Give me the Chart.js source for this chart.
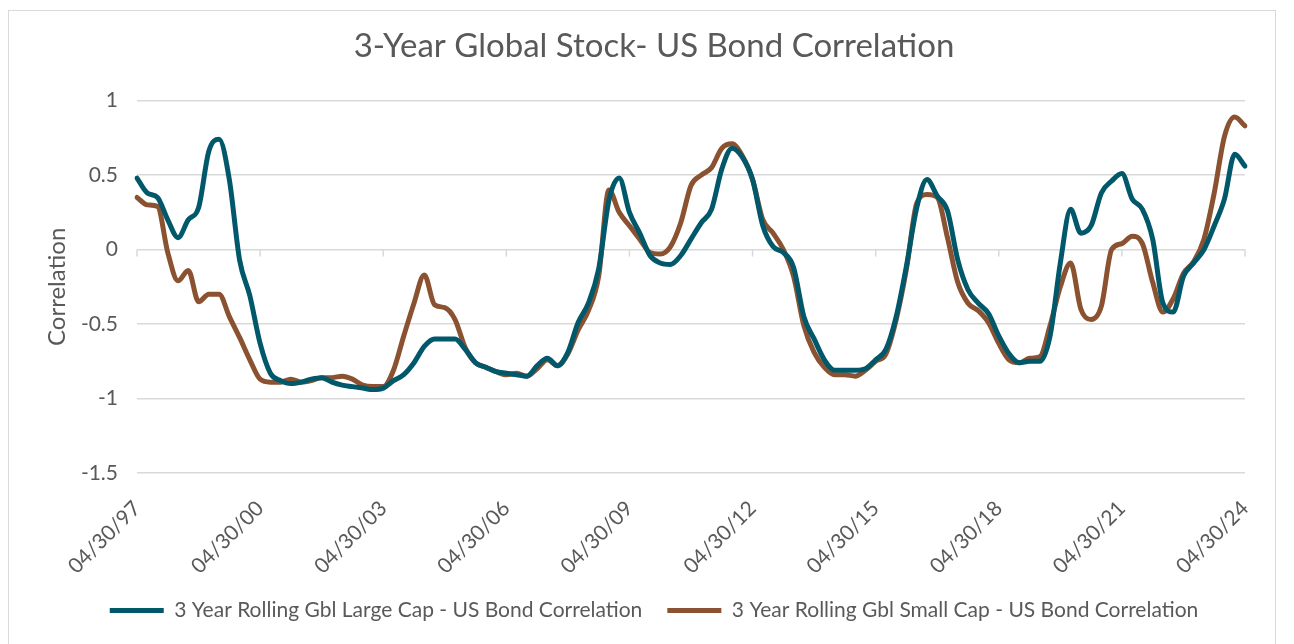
<!DOCTYPE html>
<html><head><meta charset="utf-8">
<script src="https://cdn.jsdelivr.net/npm/chart.js@4.4.1/dist/chart.umd.min.js"></script>
<style>
html,body{margin:0;padding:0;background:#fff;}
#wrap{position:relative;width:1294px;height:644px;overflow:hidden;}
#frame{position:absolute;left:8px;top:10px;width:1268px;height:650px;border:1px solid #d9d9d9;box-sizing:border-box;pointer-events:none;}
canvas{position:absolute;left:0;top:0;}
</style></head><body>
<div id="wrap"><canvas id="c" width="1294" height="644"></canvas><div id="frame"></div></div>
<script>
const categories = [
"04/30/97","07/31/97","10/31/97","01/31/98","04/30/98","07/31/98","10/31/98","01/31/99",
"04/30/99","07/31/99","10/31/99","01/31/00","04/30/00","07/31/00","10/31/00","01/31/01",
"04/30/01","07/31/01","10/31/01","01/31/02","04/30/02","07/31/02","10/31/02","01/31/03",
"04/30/03","07/31/03","10/31/03","01/31/04","04/30/04","07/31/04","10/31/04","01/31/05",
"04/30/05","07/31/05","10/31/05","01/31/06","04/30/06","07/31/06","10/31/06","01/31/07",
"04/30/07","07/31/07","10/31/07","01/31/08","04/30/08","07/31/08","10/31/08","01/31/09",
"04/30/09","07/31/09","10/31/09","01/31/10","04/30/10","07/31/10","10/31/10","01/31/11",
"04/30/11","07/31/11","10/31/11","01/31/12","04/30/12","07/31/12","10/31/12","01/31/13",
"04/30/13","07/31/13","10/31/13","01/31/14","04/30/14","07/31/14","10/31/14","01/31/15",
"04/30/15","07/31/15","10/31/15","01/31/16","04/30/16","07/31/16","10/31/16","01/31/17",
"04/30/17","07/31/17","10/31/17","01/31/18","04/30/18","07/31/18","10/31/18","01/31/19",
"04/30/19","07/31/19","10/31/19","01/31/20","04/30/20","07/31/20","10/31/20","01/31/21",
"04/30/21","07/31/21","10/31/21","01/31/22","04/30/22","07/31/22","10/31/22","01/31/23",
"04/30/23","07/31/23","10/31/23","01/31/24","04/30/24"
];

const largeCap = [
 0.48, 0.38, 0.35, 0.20, 0.08, 0.20, 0.28, 0.66,
 0.74, 0.47,-0.07,-0.31,-0.63,-0.83,-0.88,-0.90,
-0.89,-0.87,-0.86,-0.89,-0.91,-0.92,-0.93,-0.94,
-0.93,-0.88,-0.84,-0.76,-0.65,-0.60,-0.60,-0.60,
-0.67,-0.76,-0.79,-0.82,-0.83,-0.84,-0.85,-0.78,
-0.73,-0.78,-0.69,-0.49,-0.36,-0.13, 0.33, 0.48,
 0.25, 0.11,-0.04,-0.09,-0.10,-0.04, 0.07, 0.18,
 0.27, 0.54, 0.68, 0.62, 0.47, 0.16, 0.02,-0.02,
-0.12,-0.45,-0.60,-0.74,-0.81,-0.81,-0.81,-0.80,
-0.74,-0.67,-0.45,-0.11, 0.28, 0.47, 0.36, 0.26,
-0.07,-0.27,-0.36,-0.43,-0.58,-0.70,-0.76,-0.75,
-0.75,-0.58,-0.09, 0.27, 0.11, 0.16, 0.38, 0.46,
 0.51, 0.34, 0.27, 0.07,-0.36,-0.42,-0.18,-0.09,
 0.00, 0.16, 0.34, 0.64, 0.56
];

const smallCap = [
 0.35, 0.30, 0.29,-0.02,-0.21,-0.14,-0.35,-0.30,
-0.30,-0.45,-0.59,-0.74,-0.87,-0.89,-0.89,-0.87,
-0.89,-0.88,-0.86,-0.86,-0.85,-0.87,-0.91,-0.92,
-0.92,-0.81,-0.58,-0.36,-0.17,-0.37,-0.39,-0.47,
-0.66,-0.76,-0.79,-0.82,-0.84,-0.83,-0.85,-0.80,
-0.74,-0.78,-0.70,-0.54,-0.41,-0.18, 0.40, 0.25,
 0.16, 0.07,-0.02,-0.03, 0.02, 0.18, 0.43, 0.50,
 0.55, 0.68, 0.71, 0.63, 0.47, 0.20, 0.11, 0.00,
-0.18,-0.51,-0.69,-0.79,-0.84,-0.84,-0.85,-0.81,
-0.75,-0.70,-0.47,-0.13, 0.31, 0.37, 0.35, 0.08,
-0.22,-0.36,-0.41,-0.49,-0.63,-0.74,-0.76,-0.73,
-0.72,-0.51,-0.25,-0.09,-0.40,-0.47,-0.38, 0.00,
 0.04, 0.09, 0.04,-0.22,-0.42,-0.33,-0.16,-0.08,
 0.07, 0.38, 0.76, 0.89, 0.83
];

const seriesNames = [
 "3 Year Rolling Gbl Large Cap - US Bond Correlation",
 "3 Year Rolling Gbl Small Cap - US Bond Correlation"
];
const seriesColors = ["#02586B", "#8A5230"];
const yTickValues = [-1.5, -1, -0.5, 0, 0.5, 1];
const labelEvery = 12;
const chartTitle = "3-Year Global Stock- US Bond Correlation";
const yTitle = "Correlation";

const FONT = "Lato, 'Open Sans', sans-serif";
const TEXT = "#595959";
const GRID = "#d9d9d9";

const zeroTicks = {
  id: 'zeroTicks',
  beforeDatasetsDraw(chart) {
    const xs = chart.scales.x, ys = chart.scales.y;
    const y0 = ys.getPixelForValue(0);
    const ctx = chart.ctx;
    ctx.save();
    ctx.strokeStyle = GRID;
    ctx.lineWidth = 1.5;
    for (let i = 0; i < categories.length; i += labelEvery) {
      const px = xs.getPixelForValue(i);
      ctx.beginPath();
      ctx.moveTo(px, y0);
      ctx.lineTo(px, y0 + 7);
      ctx.stroke();
    }
    ctx.restore();
  }
};

new Chart(document.getElementById('c'), {
  type: 'line',
  data: {
    labels: categories,
    datasets: [
      { label: seriesNames[0], data: largeCap, borderColor: seriesColors[0], backgroundColor: seriesColors[0],
        borderWidth: 5, pointRadius: 0, cubicInterpolationMode: 'monotone', borderJoinStyle: 'round', borderCapStyle: 'round' },
      { label: seriesNames[1], data: smallCap, borderColor: seriesColors[1], backgroundColor: seriesColors[1],
        borderWidth: 5, pointRadius: 0, cubicInterpolationMode: 'monotone', borderJoinStyle: 'round', borderCapStyle: 'round' }
    ]
  },
  options: {
    responsive: false,
    animation: false,
    layout: { padding: { left: 63, right: 49, top: 10, bottom: 13 } },
    plugins: {
      title: {
        display: true, text: chartTitle, color: TEXT,
        font: { family: FONT, size: 33, weight: 'normal' },
        padding: { top: 17, bottom: 34 }
      },
      legend: {
        position: 'bottom',
        labels: {
          color: TEXT, font: { family: FONT, size: 21 },
          boxWidth: 54, boxHeight: 5, padding: 25,
          generateLabels(chart) {
            return Chart.defaults.plugins.legend.labels.generateLabels(chart).map(l => Object.assign(l, { lineWidth: 0 }));
          }
        }
      },
      tooltip: { enabled: false }
    },
    scales: {
      x: {
        grid: { display: false },
        border: { display: false },
        ticks: {
          autoSkip: false, maxRotation: 45, minRotation: 45, padding: 15,
          color: TEXT, font: { family: FONT, size: 21 },
          callback: (v, i) => (i % labelEvery === 0 ? categories[i] : '')
        },
        afterFit(s) { s.height = 102; }
      },
      y: {
        min: yTickValues[0], max: yTickValues[yTickValues.length - 1],
        afterBuildTicks(s) { s.ticks = yTickValues.map(v => ({ value: v })); },
        grid: { color: GRID, lineWidth: 1.5, drawTicks: false },
        border: { display: false },
        ticks: { padding: 19, color: TEXT, font: { family: FONT, size: 21 }, callback: v => String(v) },
        title: { display: true, text: yTitle, color: TEXT, font: { family: FONT, size: 24 }, padding: { top: -20, bottom: 0 } },
        afterFit(s) { s.width = 74; }
      }
    }
  },
  plugins: [zeroTicks]
});
</script>
</body></html>
